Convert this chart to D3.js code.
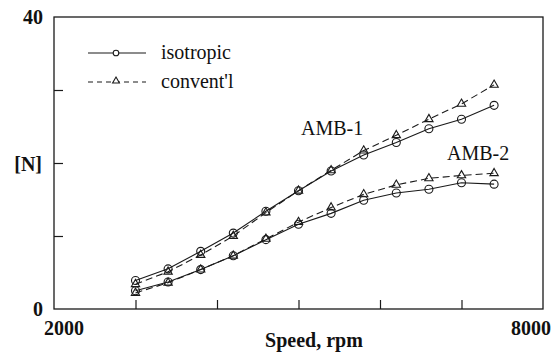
<!DOCTYPE html>
<html>
<head>
<meta charset="utf-8">
<script src="https://cdn.jsdelivr.net/npm/d3@7"></script>
<style>
  body { margin: 0; background: #fff; }
</style>
</head>
<body>
<svg id="chart" width="558" height="353"></svg>
<script>
// speeds in rpm, forces in N
const speeds = [3000, 3400, 3800, 4200, 4600, 5000, 5400, 5800, 6200, 6600, 7000, 7400];
const amb1Iso = [3.9, 5.5, 7.9, 10.4, 13.4, 16.2, 18.9, 21.1, 22.8, 24.7, 26.0, 27.9];
const amb1Conv = [3.4, 5.1, 7.4, 10.0, 13.2, 16.2, 19.0, 21.7, 23.8, 26.0, 28.1, 30.7];
const amb2Iso = [2.5, 3.7, 5.4, 7.3, 9.5, 11.6, 13.1, 14.9, 15.9, 16.4, 17.3, 17.1];
const amb2Conv = [2.2, 3.6, 5.4, 7.3, 9.6, 11.9, 13.9, 15.7, 17.0, 17.9, 18.3, 18.6];
const xTicks = [3000, 4000, 5000, 6000, 7000];
const yTicks = [10, 20, 30];

const svg = d3.select('#chart');
const x = d3.scaleLinear().domain([2000, 8000]).range([54, 543]);
const y = d3.scaleLinear().domain([0, 40]).range([309, 17]);
const ink = '#1a1a1a';
const serif = "'Liberation Serif', 'Times New Roman', Times, serif";

// frame
svg.append('rect')
    .attr('x', x(2000)).attr('y', y(40))
    .attr('width', x(8000) - x(2000)).attr('height', y(0) - y(40))
    .attr('fill', 'none').attr('stroke', ink).attr('stroke-width', 1.3);

// inward ticks
svg.append('g').attr('transform', `translate(0,${y(0)})`)
    .call(d3.axisBottom(x).tickValues(xTicks).tickSize(-9).tickFormat(''))
    .call(g => g.select('.domain').remove())
    .call(g => g.selectAll('line').attr('stroke', ink).attr('stroke-width', 1.2));
svg.append('g').attr('transform', `translate(${x(2000)},0)`)
    .call(d3.axisLeft(y).tickValues(yTicks).tickSize(-9).tickFormat(''))
    .call(g => g.select('.domain').remove())
    .call(g => g.selectAll('line').attr('stroke', ink).attr('stroke-width', 1.2));

// text labels
const lab = (t, px, py, anchor, weight) => svg.append('text')
    .attr('x', px).attr('y', py).attr('text-anchor', anchor)
    .attr('font-family', serif).attr('fill', '#111')
    .attr('font-size', 20).attr('font-weight', weight).text(t);
lab('40', 43, 24, 'end', 'bold');
lab('[N]', 42, 171, 'end', 'bold');
lab('0', 43, 316, 'end', 'bold');
lab('2000', 64, 335, 'middle', 'bold');
lab('8000', 531, 335, 'middle', 'bold');
lab('Speed, rpm', 314, 347, 'middle', 'bold');
lab('AMB-1', 301, 135, 'start', 'normal');
lab('AMB-2', 447, 160, 'start', 'normal');

const line = d3.line().x(d => x(d[0])).y(d => y(d[1]));
const tri = d3.symbol().type(d3.symbolTriangle).size(30);

function series(vals, dashed, marker) {
    const pts = speeds.map((s, i) => [s, vals[i]]);
    svg.append('path').datum(pts)
        .attr('d', line).attr('fill', 'none').attr('stroke', ink).attr('stroke-width', 1.1)
        .attr('stroke-dasharray', dashed ? '7,4' : null);
    const g = svg.append('g');
    if (marker === 'circle') {
        g.selectAll('circle').data(pts).join('circle')
            .attr('cx', d => x(d[0])).attr('cy', d => y(d[1])).attr('r', 4)
            .attr('fill', 'none').attr('stroke', ink).attr('stroke-width', 1.1);
    } else {
        g.selectAll('path').data(pts).join('path')
            .attr('d', tri).attr('transform', d => `translate(${x(d[0])},${y(d[1])})`)
            .attr('fill', 'none').attr('stroke', ink).attr('stroke-width', 1.1);
    }
}
series(amb1Conv, true, 'tri');
series(amb2Conv, true, 'tri');
series(amb1Iso, false, 'circle');
series(amb2Iso, false, 'circle');

// legend
const leg = svg.append('g');
leg.append('line').attr('x1', 88).attr('x2', 146).attr('y1', 53).attr('y2', 53)
    .attr('stroke', ink).attr('stroke-width', 1.1);
leg.append('circle').attr('cx', 116).attr('cy', 53).attr('r', 2.8)
    .attr('fill', '#fff').attr('stroke', ink).attr('stroke-width', 1.1);
leg.append('line').attr('x1', 88).attr('x2', 146).attr('y1', 82).attr('y2', 82)
    .attr('stroke', ink).attr('stroke-width', 1.1).attr('stroke-dasharray', '5,4');
leg.append('path').attr('d', d3.symbol().type(d3.symbolTriangle).size(20))
    .attr('transform', 'translate(116,81)')
    .attr('fill', '#fff').attr('stroke', ink).attr('stroke-width', 1.1);
lab('isotropic', 161, 59, 'start', 'normal');
lab("convent'l", 161, 88, 'start', 'normal');
</script>
</body>
</html>
